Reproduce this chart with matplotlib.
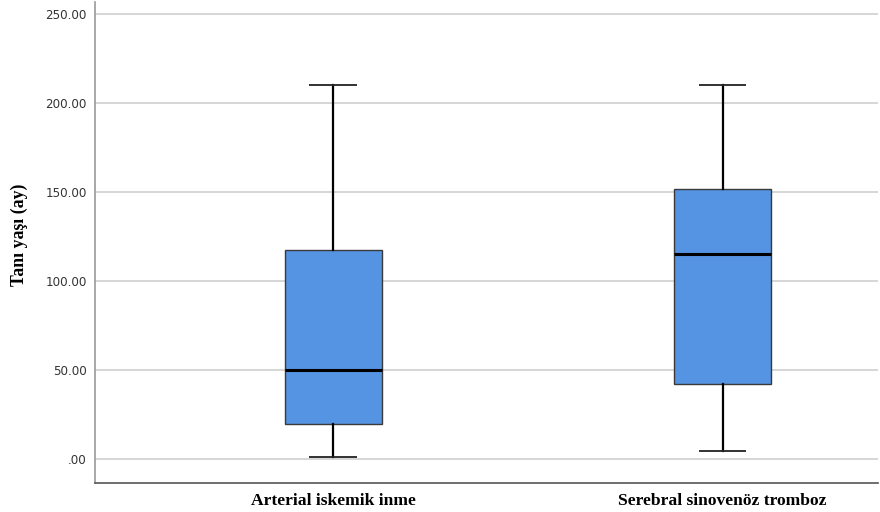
import matplotlib.pyplot as plt

# values (months)
groups = ['Arterial iskemik inme', 'Serebral sinovenöz tromboz']
whisker_low = [1.1, 4.5]
q1 = [19.7, 42.1]
median = [50.0, 115.2]
q3 = [117.4, 151.7]
whisker_high = [210.0, 210.0]
yticks = [0, 50, 100, 150, 200, 250]
ytick_labels = ['.00', '50.00', '100.00', '150.00', '200.00', '250.00']

stats = []
for i, name in enumerate(groups):
    stats.append({'label': name, 'whislo': whisker_low[i], 'q1': q1[i],
                  'med': median[i], 'q3': q3[i], 'whishi': whisker_high[i],
                  'fliers': []})

fig = plt.figure(figsize=(8.8, 5.12), dpi=100)
ax = fig.add_axes([0.108, 0.0566, 0.89, 0.94])

ax.set_axisbelow(True)
ax.yaxis.grid(True, color='#d0d0d0', linewidth=1.2)

ax.bxp(stats, positions=[1, 2], widths=0.25, patch_artist=True, showfliers=False,
       boxprops=dict(facecolor='#5593e3', edgecolor='#3a3a3a', linewidth=1.0),
       medianprops=dict(color='black', linewidth=2.2),
       whiskerprops=dict(color='black', linewidth=1.6),
       capprops=dict(color='#222222', linewidth=1.3, solid_capstyle='butt'),
       capwidths=0.123)

ax.set_xlim(0.388, 2.4)
ax.set_ylim(-13.5, 256.7)
ax.set_yticks(yticks)
ax.set_yticklabels(ytick_labels, fontsize=8.6, color='#333333')
ax.set_xticks([1, 2])
ax.set_xticklabels(groups, fontsize=12.6, fontweight='bold', family='Liberation Serif')
ax.tick_params(axis='y', length=0, pad=6)
ax.tick_params(axis='x', length=0, pad=7)

ax.set_ylabel('Tanı yaşı (ay)', fontsize=12.8, fontweight='bold', family='Liberation Serif')
ax.yaxis.set_label_coords(-0.085, 0.516)

for s in ['top', 'right']:
    ax.spines[s].set_visible(False)
for s in ['left', 'bottom']:
    ax.spines[s].set_color('#999999')
    ax.spines[s].set_linewidth(1.2)
ax.spines['bottom'].set_color('#555555')

fig.savefig('out.png', dpi=100)
